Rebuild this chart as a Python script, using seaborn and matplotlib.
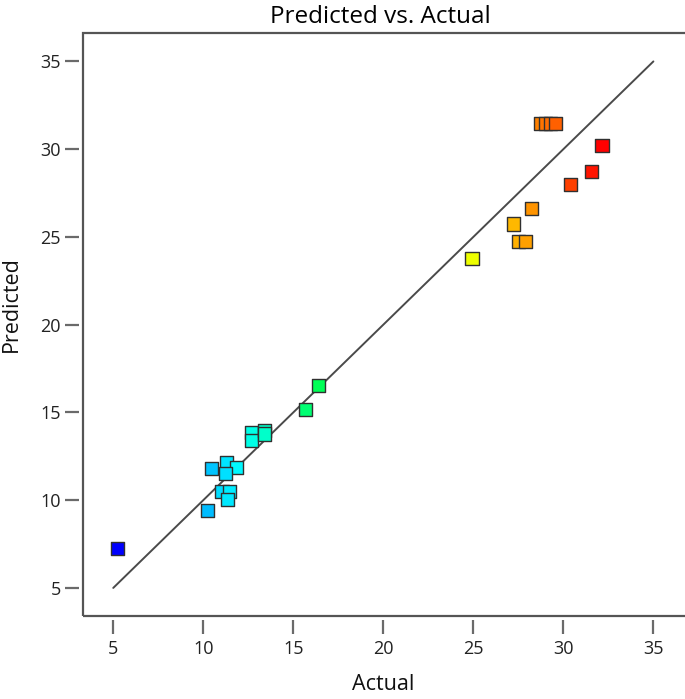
import numpy as np
import pandas as pd
import matplotlib
matplotlib.use('Agg')
import matplotlib.pyplot as plt
from matplotlib.colors import ListedColormap, hsv_to_rgb
from matplotlib.patches import Rectangle
import seaborn as sns

# valores (Actual x Predicted)
actual = [5.24, 10.24, 10.44, 11.30, 11.83, 11.22, 11.04, 11.46, 11.35,
          12.70, 12.70, 13.40, 13.40, 15.70, 16.41, 24.93, 27.24, 27.50,
          27.90, 28.22, 28.76, 29.00, 29.28, 29.56, 30.39, 31.56, 32.15]
predicted = [7.24, 9.43, 11.80, 12.15, 11.86, 11.52, 10.49, 10.49, 10.06,
             13.86, 13.39, 13.96, 13.77, 15.19, 16.52, 23.75, 25.74, 24.75,
             24.75, 26.64, 31.45, 31.45, 31.45, 31.45, 27.99, 28.73, 30.21]
linha = [5, 35]
ticks = [5, 10, 15, 20, 25, 30, 35]

df = pd.DataFrame({'Actual': actual, 'Predicted': predicted})

sns.set_theme(style='white')
plt.rcParams['font.family'] = ['Open Sans', 'DejaVu Sans']

# mapa de cores azul -> vermelho (matiz linear, como no Design-Expert)
hues = np.linspace(2 / 3, 0, 256)
cores = hsv_to_rgb(np.column_stack([hues, np.ones(256), np.ones(256)]))
cmap = ListedColormap(cores)

fig = plt.figure(figsize=(6.85, 6.99), dpi=100)
ax = fig.add_axes([83 / 685, 1 - 616 / 699, 610 / 685, (616 - 33) / 699])

ax.plot(linha, linha, color='#4a4a4a', lw=1.4, zorder=1)
sns.scatterplot(data=df, x='Actual', y='Predicted', hue='Actual', palette=cmap,
                hue_norm=(min(actual), max(actual)), marker='s', s=90,
                edgecolor='#303030', linewidth=1.0, legend=False, ax=ax, zorder=2)

ax.set_xlim(3.32, 37.2)
ax.set_ylim(3.40, 36.62)
ax.set_xticks(ticks)
ax.set_yticks(ticks)

# moldura separada dos ticks
for lado in ['bottom', 'left']:
    ax.spines[lado].set_position(('outward', 3))
for lado in ax.spines:
    ax.spines[lado].set_visible(False)
ax.add_patch(Rectangle((0, 0), 1, 1, transform=ax.transAxes, fill=False,
                       edgecolor='#555555', lw=1.6, clip_on=False, zorder=5))

ax.tick_params(axis='both', direction='out', length=10, width=1.6, color='#6a6a6a',
               labelsize=13, labelcolor='#222222', pad=4,
               bottom=True, left=True)
ax.tick_params(axis='y', pad=3)

ax.set_xlabel('Actual', fontsize=15.5, color='#111111')
ax.set_ylabel('Predicted', fontsize=15.5, color='#111111')
ax.xaxis.set_label_coords(0.492, -0.1)
ax.yaxis.set_label_coords(-0.1, 0.535)
ax.set_title('Predicted vs. Actual', fontsize=17.5, color='#000000', pad=7, x=0.487)

plt.savefig('out.png', dpi=100)
